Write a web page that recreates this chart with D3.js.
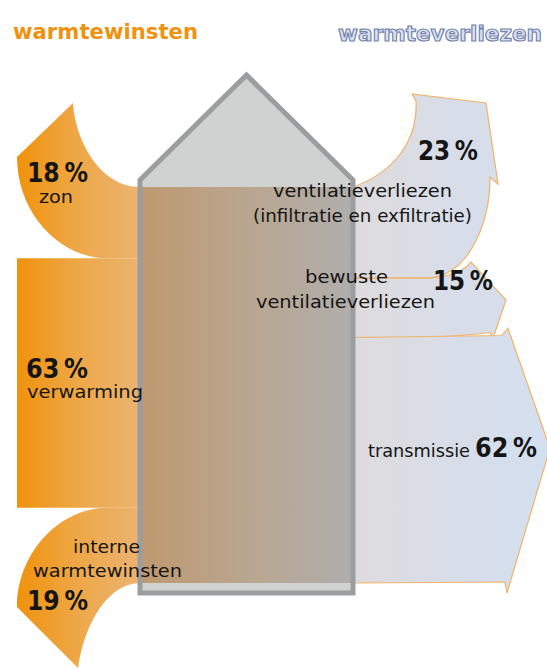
<!DOCTYPE html>
<html>
<head>
<meta charset="utf-8">
<script src="https://cdn.jsdelivr.net/npm/d3@7"></script>
<style>
  body { margin: 0; background: #fff; }
  svg { display: block; font-family: "DejaVu Sans", sans-serif; }
</style>
</head>
<body>
<svg id="chart"></svg>
<script>
// ---- data: heat gains (left) and heat losses (right), in % ----
const gainNames = ["zon", "verwarming", "interne warmtewinsten"];
const gainValues = [18, 63, 19];
const lossNames = ["ventilatieverliezen (infiltratie en exfiltratie)", "bewuste ventilatieverliezen", "transmissie"];
const lossValues = [23, 15, 62];

const width = 547, height = 670;
const houseL = 140, houseR = 353, houseTop = 75, eaves = 180, houseBottom = 593;

const svg = d3.select('#chart').attr('width', width).attr('height', height);

// band thickness: 100% of flow spans the house floor-to-eaves band
const y = d3.scaleLinear().domain([0, 100]).range([187, 583]);

function stack(values) {
  const ends = d3.cumsum(values);
  return values.map((v, i) => ({ value: v, y0: y(ends[i] - v), y1: y(ends[i]) }));
}
const gains = stack(gainValues);
const losses = stack(lossValues);

//-------- gradient of the flow band (orange -> house -> light blue) --------
const defs = svg.append('defs');
const grad = defs.append('linearGradient')
  .attr('id', 'flow').attr('gradientUnits', 'userSpaceOnUse')
  .attr('x1', 17).attr('x2', 548).attr('y1', 0).attr('y2', 0);
const off = x => (x - 17) / 531;
[[17, '#f0920c'], [75, '#eea745'], [138, '#ebb371'], [141, '#bf9970'],
 [250, '#b9a690'], [351, '#b0aeac'], [355, '#dedbdc'], [430, '#d9dde6'], [548, '#d3dff0']]
  .forEach(([x, c]) => grad.append('stop').attr('offset', off(x)).attr('stop-color', c));

//-------- house fill (under the band) --------
const housePts = [[houseL, houseBottom], [houseL, eaves], [(houseL + houseR) / 2, houseTop],
                  [houseR, eaves], [houseR, houseBottom]];
svg.append('polygon')
  .attr('points', housePts.map(p => p.join(',')).join(' '))
  .attr('fill', '#d0d2d2');

//-------- gain shapes (left) --------
const gainShapes = [
  (y0, y1) => {             // zon: curved tail from the top-left
    const p = d3.path();
    p.moveTo(houseL, y0);
    p.bezierCurveTo(100, y0, 75, 140, 73, 103);
    p.lineTo(17, 157);
    p.bezierCurveTo(17, y1 - 45, 60, y1, 107, y1);
    p.lineTo(houseL, y1);
    p.closePath();
    return p;
  },
  (y0, y1) => {             // verwarming: straight block
    const p = d3.path();
    p.rect(17, y0, houseL - 17, y1 - y0);
    return p;
  },
  (y0, y1) => {             // interne warmtewinsten: curved tail to the bottom-left
    const p = d3.path();
    p.moveTo(houseL, y0);
    p.lineTo(107, y0);
    p.bezierCurveTo(60, y0, 17, y0 + 45, 17, 607);
    p.lineTo(78, 668);
    p.bezierCurveTo(85, 620, 110, y1, houseL, y1);
    p.closePath();
    return p;
  }
];

//-------- loss shapes (right) --------
const lossShapes = [
  (y0, y1) => {             // ventilatie: bends upward
    const p = d3.path();
    p.moveTo(houseR, y0);
    p.bezierCurveTo(395, y0 - 15, 418, 140, 416, 101);
    p.lineTo(412, 94);
    p.lineTo(486, 103);
    p.lineTo(498, 184);
    p.lineTo(490, 177);
    p.bezierCurveTo(490, 225, 468, y1 - 4, 430, y1);
    p.lineTo(houseR, y1);
    p.closePath();
    return p;
  },
  (y0, y1) => {             // bewuste ventilatie
    const p = d3.path();
    p.moveTo(houseR, y0);
    p.lineTo(430, y0);
    p.quadraticCurveTo(455, y0 - 2, 466, y0 - 11);
    p.lineTo(471, y0 - 16);
    p.lineTo(506, (y0 + y1) / 2 - 8);
    p.lineTo(493, y1 + 1);
    p.lineTo(490, y1 - 5);
    p.quadraticCurveTo(460, y1 - 1, 418, y1);
    p.lineTo(houseR, y1);
    p.closePath();
    return p;
  },
  (y0, y1) => {             // transmissie: wide arrow to the right
    const p = d3.path();
    p.moveTo(houseR, y0);
    p.lineTo(502, y0 - 2);
    p.lineTo(508, y0 - 9);
    p.lineTo(550, (y0 + y1) / 2 - 12);
    p.lineTo(507, y1 + 10);
    p.lineTo(505, y1 - 1);
    p.lineTo(houseR, y1);
    p.closePath();
    return p;
  }
];

// band running through the house
svg.append('rect')
  .attr('x', houseL).attr('y', y(0))
  .attr('width', houseR - houseL).attr('height', y(100) - y(0))
  .attr('fill', 'url(#flow)');

svg.selectAll('.gain')
  .data(gains)
  .join('path')
    .attr('class', 'gain')
    .attr('d', (d, i) => gainShapes[i](d.y0, d.y1).toString())
    .attr('fill', 'url(#flow)');

svg.selectAll('.loss')
  .data(losses)
  .join('path')
    .attr('class', 'loss')
    .attr('d', (d, i) => lossShapes[i](d.y0, d.y1).toString())
    .attr('fill', 'url(#flow)')
    .attr('stroke', '#f2b268')
    .attr('stroke-width', 1.2)
    .attr('stroke-linejoin', 'miter');

//-------- house outline on top --------
svg.append('polygon')
  .attr('points', housePts.map(p => p.join(',')).join(' '))
  .attr('fill', 'none')
  .attr('stroke', '#9b9d9f')
  .attr('stroke-width', 5);

//-------- titles --------
svg.append('text')
  .attr('x', 13).attr('y', 39)
  .attr('font-size', 21).attr('font-weight', 'bold')
  .attr('fill', '#f0920f')
  .attr('textLength', 185).attr('lengthAdjust', 'spacingAndGlyphs')
  .text('warmtewinsten');

svg.append('text')
  .attr('x', 338).attr('y', 41)
  .attr('font-size', 22).attr('font-weight', 'bold')
  .attr('fill', '#dbe3f2').attr('stroke', '#7282ab').attr('stroke-width', 1.2)
  .attr('textLength', 204).attr('lengthAdjust', 'spacingAndGlyphs')
  .text('warmteverliezen');

//-------- labels --------
const pct = v => v + '\u2009%';

// [text, x, y, width, bold, anchor]
const labelRows = [
  [pct(gainValues[0]), 27, 182, 61, true],
  ['zon', 39, 203, 34, false],
  [pct(gainValues[1]), 26, 378, 62, true],
  ['verwarming', 27, 398, 116, false],
  ['interne', 73, 553, 67, false],
  ['warmtewinsten', 33, 577, 149, false],
  [pct(gainValues[2]), 27, 610, 61, true],
  [pct(lossValues[0]), 418, 160, 60, true],
  ['ventilatieverliezen', 273, 197, 179, false],
  ['(infiltratie en exfiltratie)', 253, 222, 219, false],
  ['bewuste', 305, 283, 83, false],
  ['ventilatieverliezen', 256, 308, 179, false],
  [pct(lossValues[1]), 433, 290, 60, true],
  ['transmissie', 368, 457, 102, false],
  [pct(lossValues[2]), 475, 457, 62, true]
];

svg.selectAll('.label')
  .data(labelRows)
  .join('text')
    .attr('class', 'label')
    .attr('x', d => d[1])
    .attr('y', d => d[2])
    .attr('font-size', d => d[4] ? 27 : 18)
    .attr('font-weight', d => d[4] ? 'bold' : 'normal')
    .attr('fill', '#151515')
    .attr('textLength', d => d[3])
    .attr('lengthAdjust', 'spacingAndGlyphs')
    .text(d => d[0]);
</script>
</body>
</html>
